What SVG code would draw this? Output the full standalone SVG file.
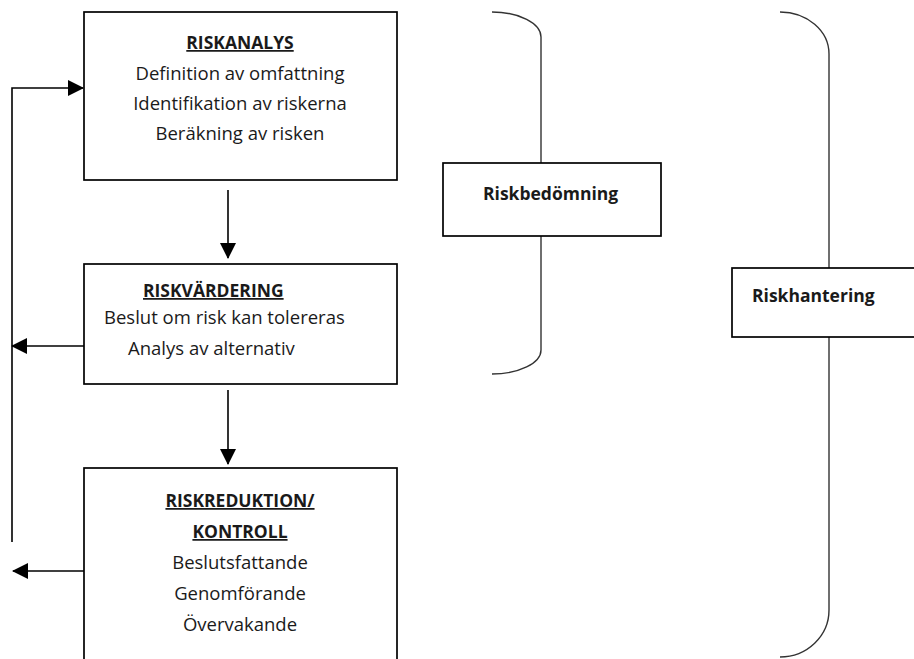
<svg xmlns="http://www.w3.org/2000/svg" width="914" height="659" viewBox="0 0 914 659">
<style>
.box{fill:#fff;stroke:#000;stroke-width:1.7}
.t{font-family:"Open Sans","Liberation Sans",sans-serif;font-size:18.5px;fill:#1a1a1a}
.h{font-weight:bold;text-decoration:underline;font-size:17.5px}
.b{font-weight:bold;font-size:17.5px}
.c{text-anchor:middle}
.con{fill:none;stroke:#000;stroke-width:1.6}
.br{fill:none;stroke:#333;stroke-width:1.4}
</style>
<defs>
<marker id="ah" markerWidth="16" markerHeight="16" viewBox="0 0 16 16" refX="15" refY="8" orient="auto" markerUnits="userSpaceOnUse">
<path d="M0,0 L16,8 L0,16 z" fill="#000"/>
</marker>
</defs>
<g id="connectors">
<path class="con" d="M12,542 V88 H83" marker-end="url(#ah)"/>
<path class="con" d="M228,190 V258" marker-end="url(#ah)"/>
<path class="con" d="M228,390 V464" marker-end="url(#ah)"/>
<path class="con" d="M84,346 H12" marker-end="url(#ah)"/>
<path class="con" d="M84,571 H13" marker-end="url(#ah)"/>
</g>
<g id="brackets">
<path class="br" d="M492,12 A49 25 0 0 1 541 37 V163 M541,236 V350 A49 24 0 0 1 492 374"/>
<path class="br" d="M780,12 A49 42 0 0 1 829 54 V268 M829,337 V610 A49 47 0 0 1 780 657"/>
</g>
<g id="riskanalys">
<rect class="box" x="84" y="12" width="313" height="168"/>
<text class="t h c" x="240" y="49">RISKANALYS</text>
<text class="t c" x="240" y="80">Definition av omfattning</text>
<text class="t c" x="240" y="110">Identifikation av riskerna</text>
<text class="t c" x="240" y="140">Beräkning av risken</text>
</g>
<g id="riskvardering">
<rect class="box" x="84" y="264" width="313" height="120"/>
<text class="t h" x="143" y="297">RISKVÄRDERING</text>
<text class="t" x="104" y="324">Beslut om risk kan tolereras</text>
<text class="t" x="128" y="355">Analys av alternativ</text>
</g>
<g id="riskreduktion">
<rect class="box" x="84" y="468" width="313" height="200"/>
<text class="t h c" x="240" y="507">RISKREDUKTION/</text>
<text class="t h c" x="240" y="538">KONTROLL</text>
<text class="t c" x="240" y="569">Beslutsfattande</text>
<text class="t c" x="240" y="600">Genomförande</text>
<text class="t c" x="240" y="631">Övervakande</text>
</g>
<g id="riskbedomning">
<rect class="box" x="443" y="163" width="218" height="73"/>
<text class="t b" x="483" y="200">Riskbedömning</text>
</g>
<g id="riskhantering">
<rect class="box" x="732" y="268" width="190" height="69"/>
<text class="t b" x="752" y="302">Riskhantering</text>
</g>
</svg>
